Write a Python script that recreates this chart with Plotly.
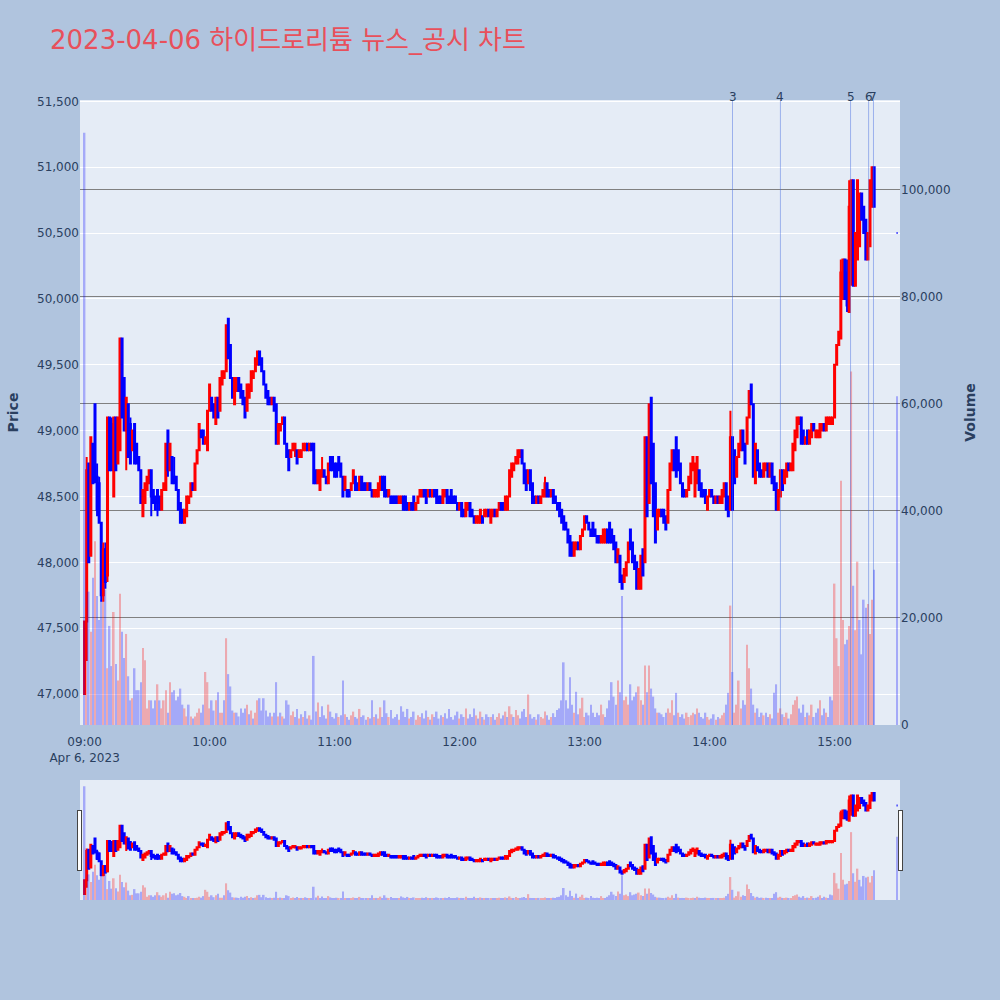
import pandas as pd
import plotly.graph_objects as go

# ---------------- data (1-minute candles, 2023-04-06) ----------------
open_ = [
    47000, 47550, 48750, 48050, 48900, 49200, 48650, 48600, 48300, 47750,
    48100, 47900, 49100, 49050, 48500, 49100, 48750, 48850, 49700, 49400,
    49000, 49200, 49050, 48850, 49050, 48900, 48800, 48700, 48350, 48450,
    48550, 48600, 48700, 48550, 48500, 48550, 48500, 48400, 48550, 48550,
    49000, 48700, 48800, 48650, 48650, 48550, 48450, 48400, 48300, 48350,
    48450, 48500, 48600, 48550, 48750, 48850, 49000, 49000, 48900, 48850,
    49150, 49250, 49200, 49050, 49250, 49150, 49350, 49400, 49450, 49850,
    49650, 49400, 49200, 49300, 49400, 49350, 49300, 49250, 49150, 49250,
    49300, 49400, 49450, 49500, 49600, 49550, 49450, 49350, 49300, 49250,
    49200, 49250, 49200, 48900, 49000, 49050, 49100, 48900, 48850,
    48800, 48850, 48850, 48850, 48800, 48800, 48850, 48850, 48900, 48850,
    48900, 48900, 48700, 48600, 48550, 48650, 48700, 48650, 48600, 48800,
    48800, 48750, 48750, 48800, 48750, 48650, 48550, 48550, 48550, 48550,
    48600, 48650, 48600, 48550, 48650, 48600, 48600, 48550, 48600, 48550,
    48500, 48500, 48500, 48550, 48650, 48650, 48550, 48500, 48500, 48500,
    48500, 48500, 48450, 48450, 48500, 48500, 48450, 48400, 48450, 48500,
    48400, 48450, 48500, 48500, 48550, 48550, 48500, 48550, 48500, 48550,
    48550, 48500, 48500, 48450, 48500, 48550, 48500, 48550, 48500, 48500,
    48450, 48400, 48450, 48400, 48350, 48400, 48450, 48400, 48350, 48300,
    48300, 48300, 48350, 48350, 48350, 48400,
    48300, 48350, 48400, 48350, 48400, 48450, 48450, 48400, 48400, 48500,
    48650, 48700, 48750, 48750, 48800, 48850, 48750, 48700, 48600, 48700,
    48600, 48500, 48450, 48500, 48450, 48500, 48500, 48600, 48550, 48500,
    48550, 48500, 48450, 48450, 48400, 48350, 48300, 48250, 48200, 48150,
    48050, 48100, 48150, 48100, 48200, 48250, 48350, 48300, 48250, 48300,
    48250, 48200, 48200, 48150, 48150, 48150, 48250, 48300, 48250, 48200,
    48150, 48000, 48050, 47900, 47850, 47900, 48000, 48250, 48150, 48050,
    48000, 47800, 47800, 48100, 48000, 48950, 48450, 49250, 48900, 48600,
    48250, 48350, 48400, 48400, 48350, 48300, 48550, 48700, 48850, 48950,
    48850, 48750, 48600, 48550, 48500, 48550, 48600, 48700,
    48500, 48600, 48700, 48600, 48550, 48550, 48400, 48500, 48550, 48500,
    48450, 48500, 48450, 48450, 48500, 48600, 48500, 48400, 48950, 48850,
    48650, 48800, 48850, 49000, 48900, 48900, 49100, 49350, 49200, 48600,
    48850, 48750, 48700, 48650, 48700, 48750, 48650, 48750, 48650, 48600,
    48400, 48500, 48700, 48600, 48650, 48750, 48700, 48700, 48850, 48950,
    49050, 49100, 49000, 48900, 49000, 48900, 48950, 49050, 48950, 48950,
    48950, 49000, 49050, 49000, 49050, 49050, 49050, 49100, 49500, 49650,
    49700, 50000, 50300, 50200, 49900, 50300, 50900, 50100, 50300, 50400,
    50800, 50700, 50600, 50300, 50400, 50700, 51000,
    50500,
]
high_ = [
    47550, 48800, 48750, 48950, 48900, 49200, 48750, 48650, 48300, 48150,
    48150, 49100, 49100, 49100, 49100, 49100, 49100, 49700, 49700, 49400,
    49250, 49200, 49100, 49000, 49050, 48900, 48800, 48700, 48550, 48600,
    48650, 48700, 48700, 48550, 48500, 48550, 48500, 48550, 48600, 48900,
    49000, 48900, 48800, 48800, 48650, 48550, 48450, 48400, 48400, 48500,
    48500, 48600, 48600, 48750, 48850, 49050, 49000, 49000, 48950, 49150,
    49350, 49250, 49200, 49250, 49250, 49400, 49450, 49450, 49800, 49850,
    49650, 49400, 49400, 49400, 49400, 49350, 49300, 49250, 49350, 49350,
    49450, 49450, 49550, 49600, 49600, 49550, 49450, 49350, 49300, 49250,
    49250, 49250, 49200, 49050, 49050, 49100, 49100, 48900, 48850,
    48850, 48900, 48900, 48850, 48850, 48850, 48900, 48900, 48900, 48900,
    48900, 48900, 48700, 48700, 48700, 48800, 48700, 48650, 48750, 48800,
    48800, 48750, 48750, 48800, 48750, 48650, 48650, 48550, 48550, 48600,
    48700, 48650, 48600, 48650, 48650, 48600, 48600, 48600, 48600, 48550,
    48550, 48550, 48600, 48650, 48650, 48650, 48550, 48550, 48500, 48500,
    48500, 48500, 48500, 48500, 48500, 48500, 48450, 48450, 48450, 48500,
    48450, 48500, 48550, 48550, 48550, 48550, 48550, 48550, 48550, 48550,
    48550, 48500, 48500, 48550, 48550, 48550, 48500, 48550, 48500, 48500,
    48450, 48450, 48450, 48400, 48450, 48450, 48450, 48400, 48350, 48350,
    48350, 48400, 48350, 48400, 48400, 48400,
    48400, 48400, 48400, 48400, 48450, 48450, 48450, 48500, 48500, 48700,
    48750, 48750, 48800, 48850, 48850, 48850, 48750, 48700, 48700, 48700,
    48600, 48500, 48500, 48500, 48500, 48550, 48650, 48600, 48550, 48550,
    48550, 48500, 48450, 48450, 48400, 48350, 48300, 48250, 48200, 48150,
    48150, 48150, 48150, 48200, 48250, 48350, 48350, 48300, 48250, 48300,
    48250, 48200, 48200, 48200, 48250, 48250, 48250, 48300, 48250, 48200,
    48150, 48100, 48050, 47900, 47950, 48000, 48150, 48250, 48150, 48050,
    48000, 47950, 48050, 48100, 48950, 48950, 49200, 49250, 48900, 48600,
    48400, 48400, 48400, 48400, 48350, 48550, 48750, 48850, 48850, 48950,
    48850, 48750, 48600, 48550, 48550, 48650, 48750, 48800,
    48750, 48800, 48700, 48600, 48550, 48550, 48500, 48550, 48550, 48500,
    48500, 48500, 48500, 48550, 48600, 48600, 48500, 49150, 48950, 48850,
    48800, 48900, 49000, 49000, 48900, 49100, 49300, 49350, 49200, 48900,
    48850, 48750, 48700, 48750, 48750, 48750, 48750, 48750, 48650, 48600,
    48550, 48700, 48700, 48700, 48750, 48750, 48750, 48900, 49000, 49100,
    49100, 49100, 49000, 48950, 49000, 49000, 49050, 49050, 49000, 49000,
    49050, 49050, 49050, 49100, 49100, 49100, 49100, 49500, 49650, 49750,
    50300, 50300, 50300, 50300, 50900, 50900, 50900, 50500, 50900, 50800,
    50800, 50700, 50600, 50500, 50900, 51000, 51000,
    50500,
]
low_ = [
    47000, 47250, 48000, 48050, 48600, 48600, 48350, 48300, 47700, 47700,
    47800, 47850, 48700, 48700, 48500, 48700, 48750, 48850, 49100, 49000,
    48700, 48800, 48750, 48850, 48750, 48750, 48700, 48450, 48350, 48450,
    48550, 48600, 48350, 48450, 48400, 48350, 48400, 48400, 48550, 48550,
    48650, 48700, 48600, 48600, 48550, 48400, 48300, 48300, 48300, 48350,
    48450, 48500, 48550, 48550, 48750, 48850, 48950, 48900, 48900, 48850,
    49150, 49150, 49100, 49050, 49100, 49150, 49350, 49400, 49450, 49550,
    49400, 49250, 49200, 49300, 49300, 49250, 49200, 49100, 49150, 49250,
    49300, 49400, 49450, 49500, 49500, 49450, 49350, 49250, 49200, 49200,
    49200, 49150, 48900, 48900, 49000, 49050, 48900, 48800, 48700,
    48800, 48850, 48800, 48750, 48800, 48800, 48850, 48850, 48850, 48850,
    48850, 48600, 48600, 48600, 48550, 48650, 48650, 48600, 48600, 48700,
    48700, 48650, 48650, 48700, 48650, 48500, 48550, 48500, 48500, 48550,
    48600, 48550, 48550, 48550, 48550, 48550, 48550, 48550, 48550, 48500,
    48500, 48500, 48500, 48550, 48550, 48500, 48500, 48500, 48450, 48450,
    48450, 48450, 48450, 48450, 48400, 48400, 48400, 48400, 48400, 48400,
    48400, 48450, 48500, 48500, 48500, 48450, 48500, 48500, 48500, 48500,
    48450, 48450, 48450, 48450, 48500, 48450, 48450, 48450, 48450, 48450,
    48400, 48400, 48350, 48350, 48350, 48400, 48350, 48350, 48300, 48300,
    48300, 48300, 48300, 48350, 48350, 48350,
    48300, 48350, 48350, 48350, 48400, 48400, 48400, 48400, 48400, 48500,
    48650, 48700, 48750, 48750, 48800, 48750, 48600, 48550, 48600, 48550,
    48450, 48450, 48450, 48450, 48450, 48500, 48500, 48500, 48500, 48500,
    48450, 48450, 48400, 48350, 48300, 48250, 48250, 48150, 48050, 48050,
    48050, 48100, 48100, 48100, 48200, 48250, 48300, 48250, 48200, 48200,
    48200, 48150, 48150, 48150, 48150, 48150, 48150, 48150, 48150, 48100,
    48000, 48000, 47850, 47800, 47850, 47900, 48000, 48100, 48000, 47950,
    47800, 47800, 47800, 47900, 48000, 48350, 48450, 48600, 48350, 48150,
    48250, 48350, 48350, 48300, 48250, 48300, 48550, 48700, 48700, 48650,
    48700, 48600, 48500, 48500, 48500, 48550, 48600, 48700,
    48500, 48600, 48550, 48500, 48500, 48450, 48400, 48500, 48500, 48450,
    48450, 48450, 48450, 48450, 48500, 48400, 48350, 48400, 48400, 48600,
    48650, 48800, 48850, 48850, 48750, 48900, 49100, 49200, 48650, 48600,
    48700, 48650, 48650, 48650, 48700, 48650, 48650, 48600, 48550, 48400,
    48400, 48500, 48550, 48600, 48650, 48700, 48700, 48700, 48850, 48950,
    49050, 48900, 48900, 48900, 48900, 48900, 48950, 49000, 48950, 48950,
    48950, 49000, 49000, 49000, 49050, 49050, 49050, 49100, 49500, 49650,
    49700, 50000, 50000, 49900, 49900, 50100, 50100, 50100, 50300, 50400,
    50600, 50500, 50300, 50300, 50400, 50700, 50700,
    50500,
]
close_ = [
    47550, 48700, 48000, 48950, 48600, 48650, 48400, 48300, 47750, 48100,
    47850, 49100, 48700, 48700, 49100, 48700, 49100, 49700, 49100, 49000,
    49250, 48800, 48750, 49000, 48750, 48750, 48700, 48450, 48550, 48600,
    48650, 48700, 48500, 48450, 48400, 48450, 48400, 48550, 48600, 48900,
    48700, 48900, 48600, 48600, 48550, 48400, 48300, 48300, 48400, 48500,
    48500, 48600, 48550, 48750, 48850, 49050, 48950, 48900, 48950, 49150,
    49350, 49150, 49100, 49250, 49100, 49400, 49450, 49450, 49800, 49550,
    49400, 49250, 49400, 49400, 49300, 49250, 49200, 49100, 49350, 49350,
    49450, 49450, 49550, 49600, 49500, 49450, 49350, 49250, 49200, 49200,
    49250, 49150, 48900, 49050, 49050, 49100, 48900, 48800, 48700,
    48850, 48900, 48900, 48750, 48850, 48850, 48900, 48900, 48850, 48900,
    48850, 48600, 48600, 48700, 48700, 48700, 48650, 48600, 48750, 48700,
    48700, 48650, 48650, 48700, 48650, 48500, 48650, 48500, 48500, 48600,
    48700, 48550, 48550, 48650, 48550, 48550, 48550, 48600, 48550, 48500,
    48550, 48550, 48600, 48650, 48550, 48500, 48500, 48550, 48450, 48450,
    48450, 48450, 48500, 48500, 48400, 48400, 48400, 48450, 48400, 48400,
    48450, 48500, 48550, 48550, 48500, 48450, 48550, 48500, 48550, 48500,
    48450, 48450, 48450, 48550, 48550, 48450, 48450, 48450, 48450, 48450,
    48400, 48450, 48350, 48350, 48450, 48450, 48350, 48350, 48300, 48350,
    48350, 48400, 48300, 48400, 48400, 48350,
    48400, 48400, 48350, 48400, 48450, 48400, 48400, 48500, 48500, 48700,
    48750, 48750, 48800, 48850, 48850, 48750, 48600, 48550, 48700, 48550,
    48450, 48450, 48500, 48450, 48500, 48550, 48600, 48500, 48500, 48550,
    48450, 48450, 48400, 48350, 48300, 48250, 48250, 48150, 48050, 48050,
    48150, 48150, 48100, 48200, 48250, 48350, 48300, 48250, 48200, 48200,
    48200, 48150, 48150, 48200, 48250, 48250, 48150, 48150, 48150, 48100,
    48000, 48100, 47850, 47800, 47950, 48000, 48150, 48100, 48000, 47950,
    47800, 47950, 48050, 47900, 48950, 48350, 49200, 48600, 48350, 48150,
    48400, 48400, 48350, 48300, 48250, 48550, 48750, 48850, 48700, 48650,
    48700, 48600, 48500, 48500, 48550, 48650, 48750, 48800,
    48750, 48800, 48550, 48500, 48500, 48450, 48500, 48550, 48500, 48450,
    48500, 48450, 48500, 48550, 48600, 48400, 48350, 48950, 48400, 48600,
    48800, 48900, 49000, 48850, 48750, 49100, 49300, 49200, 48650, 48900,
    48700, 48650, 48650, 48750, 48750, 48650, 48750, 48600, 48550, 48400,
    48550, 48700, 48550, 48700, 48750, 48700, 48750, 48900, 49000, 49100,
    49100, 48900, 48900, 48950, 48900, 49000, 49050, 49000, 49000, 49000,
    49050, 49050, 49000, 49100, 49100, 49100, 49100, 49500, 49650, 49750,
    50200, 50300, 50000, 49950, 50700, 50900, 50100, 50500, 50900, 50800,
    50600, 50500, 50300, 50500, 50900, 51000, 50700,
    50500,
]
volume = [
    110600, 21900, 24900, 17400, 27500, 34300, 24100, 19600, 23400, 24900,
    25300, 10600, 18500, 11000, 21100, 11400, 8300, 24500, 17400, 12500,
    17000, 9100, 4600, 5000, 10600, 6500, 6500, 8000, 14400, 12100,
    3100, 4600, 4600, 3100, 4600, 7600, 4600, 3100, 4600, 6500,
    2300, 8000, 6100, 6500, 4600, 5300, 6800, 3800, 3100, 1600,
    3800, 1600, 1200, 1600, 2300, 3100, 2300, 3800, 9900, 8000,
    3100, 4600, 2700, 4600, 6100, 2300, 2300, 4600, 16200, 9500,
    7200, 2700, 2300, 2300, 1600, 3100, 2300, 3100, 3800, 2000,
    2700, 1200, 2300, 4600, 5000, 2700, 5000, 2700, 1600, 2300,
    1600, 2300, 8000, 1600, 2300, 1600, 1200, 4600, 3800,
    1800, 2500, 1500, 3000, 1200, 2000, 1500, 2600, 1200, 1800,
    1000, 12900, 2500, 4200, 1500, 3500, 1800, 1200, 3800, 2500,
    1500, 1200, 2200, 1500, 1800, 8300, 2000, 1500, 1000, 1800,
    2500, 1500, 1200, 3000, 1500, 1800, 1000, 1500, 1200, 4600,
    1500, 2000, 1200, 3300, 1500, 4600, 2200, 1500, 2800, 1200,
    1500, 2000, 1000, 3500, 2500, 1500, 3000, 1200, 1500, 2500,
    1000, 1800, 1500, 2200, 1200, 2700, 1500, 1000, 2000, 1500,
    2500, 1200, 1800, 1500, 2200, 1200, 3000, 1500, 1000, 1800,
    2500, 1200, 2000, 1500, 3100, 1200, 2000, 1500, 3100, 1800,
    1200, 2500, 1500, 1000, 2000, 1500,
    1500, 2000, 1000, 1500, 2200, 1200, 1800, 2500, 1500, 3500,
    2000, 1500, 2800, 1800, 1200, 2500, 3000, 1500, 5700, 2000,
    1200, 1500, 1000, 2000, 1500, 1200, 2500, 1800, 1000, 1500,
    2200, 1500, 2800, 3100, 4600, 11700, 4600, 3100, 8900, 3800,
    2300, 6200, 2000, 3100, 5100, 1500, 2300, 1800, 3800, 2300,
    1500, 2300, 1800, 3800, 2000, 1500, 3100, 4600, 8000, 5300,
    3800, 8300, 6100, 24100, 4600, 5300, 3800, 7600, 4600, 5300,
    6100, 7200, 4600, 3800, 11100, 6100, 11100, 6800, 5300, 3100,
    2300, 2300, 2000, 1500, 2300, 3100, 2300, 4600, 1800, 6000,
    2300, 1500, 2000, 1200, 2300, 1500, 1800, 2300,
    2000, 3100, 2300, 1500, 1200, 2300, 1500, 1000, 1200, 2000,
    1000, 1500, 1200, 1800, 2300, 3800, 6000, 22300, 9900, 2300,
    3800, 8300, 3100, 4600, 3800, 15000, 10600, 6800, 3800, 2300,
    3100, 1500, 2300, 1800, 2300, 1500, 2000, 1200, 6000, 7600,
    2300, 3100, 2000, 1500, 2300, 1200, 2000, 3800, 4600, 5300,
    3100, 2300, 3800, 1500, 2300, 1800, 3800, 1500, 2300, 3100,
    4600, 1800, 3100, 2300, 1500, 5300, 4600, 26400, 16200, 11000,
    45600, 19600, 15100, 15900, 18500, 66000, 26000, 17700, 30500, 19600,
    13200, 23400, 21900, 22600, 17000, 23400, 29000,
    61400,
]
session_start = "2023-04-06 09:00"
closing_auction = "2023-04-06 15:30"
news_times = ["2023-04-06 14:11:00", "2023-04-06 14:34:00", "2023-04-06 15:07:40",
              "2023-04-06 15:16:20", "2023-04-06 15:18:40"]
news_labels = ["3", "4", "5", "6", "7"]

# ---------------- figure ----------------
n = len(close_)
times = list(pd.date_range(session_start, periods=n - 1, freq="min")) + [pd.Timestamp(closing_auction)]
vol_colors = ["blue"] + ["red" if close_[i] > close_[i - 1] else "blue" for i in range(1, n)]

fig = go.Figure()
fig.add_trace(go.Candlestick(
    x=times, open=open_, high=high_, low=low_, close=close_,
    increasing=dict(line=dict(color="red"), fillcolor="red"),
    decreasing=dict(line=dict(color="blue"), fillcolor="blue"),
    yaxis="y", showlegend=False, name="Price"))
fig.add_trace(go.Bar(
    x=times, y=volume, marker=dict(color=vol_colors, line=dict(width=0)),
    opacity=0.28, yaxis="y2", showlegend=False, name="Volume"))

for t, lab in zip(news_times, news_labels):
    fig.add_shape(type="line", xref="x", yref="paper", x0=t, x1=t, y0=0, y1=1,
                  line=dict(color="rgba(65,105,225,0.45)", width=1))
    fig.add_annotation(x=t, y=1, xref="x", yref="paper", text=lab, showarrow=False,
                       yanchor="middle", xanchor="center", yshift=3,
                       font=dict(size=12, color="#2a3f5f"))

x_range = ["2023-04-06 08:57:48", "2023-04-06 15:31:24"]
fig.update_layout(
    width=1000, height=1000,
    template="plotly",
    margin=dict(l=80, r=100, t=100, b=100),
    paper_bgcolor="lightsteelblue",
    plot_bgcolor="#E5ECF6",
    font=dict(family="DejaVu Sans, Noto Sans CJK KR", size=12, color="#2a3f5f"),
    title=dict(text="2023-04-06 하이드로리튬 뉴스_공시 차트", x=0.05, y=0.96,
               yanchor="middle",
               font=dict(size=26, color="#E8505B",
                         family="DejaVu Sans, Noto Sans CJK KR")),
    showlegend=False,
    xaxis=dict(type="date", range=x_range, showgrid=False,
               ticks="outside", ticklen=6, tickcolor="rgba(0,0,0,0)",
               rangeslider=dict(visible=True, range=x_range, bgcolor="#E5ECF6")),
    yaxis=dict(title=dict(text="<b>Price</b>", font=dict(size=14)),
               range=[46765, 51510], tickformat=",", dtick=500,
               gridcolor="white", zeroline=False),
    yaxis2=dict(title=dict(text="<b>Volume</b>", font=dict(size=14)),
                overlaying="y", side="right", range=[0, 116700], tickformat=",",
                dtick=20000, gridcolor="gray", zeroline=False),
)
fig.write_html("out.html",
               config={"displayModeBar": False},
               post_script="document.body.style.margin='0px';"
                           "document.body.style.overflow='hidden';")
